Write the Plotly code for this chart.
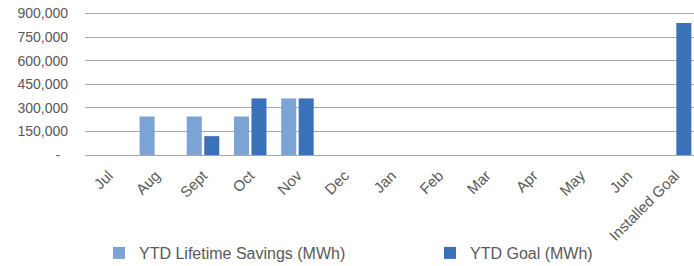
import plotly.graph_objects as go

categories = ["Jul", "Aug", "Sept", "Oct", "Nov", "Dec", "Jan", "Feb", "Mar", "Apr", "May", "Jun", "Installed Goal"]
lifetime_savings = [None, 245000, 245000, 245000, 360000, None, None, None, None, None, None, None, None]
ytd_goal = [None, None, 120000, 360000, 360000, None, None, None, None, None, None, None, 840000]
y_tickvals = [0, 150000, 300000, 450000, 600000, 750000, 900000]
y_ticktext = ["-\u00a0\u00a0", "150,000", "300,000", "450,000", "600,000", "750,000", "900,000"]

FONT = "Liberation Sans, Arial, Helvetica, sans-serif"
GRAY = "#595959"

fig = go.Figure()
fig.add_trace(go.Bar(name="YTD Lifetime Savings (MWh)", x=categories, y=lifetime_savings,
                     marker=dict(color="#7BA3D6", line=dict(width=0)), legend="legend"))
fig.add_trace(go.Bar(name="YTD Goal (MWh)", x=categories, y=ytd_goal,
                     marker=dict(color="#3A72BA", line=dict(width=0)), legend="legend2"))

leg_common = dict(orientation="h", xref="container", yref="container",
                  xanchor="left", yanchor="middle", bgcolor="rgba(0,0,0,0)",
                  font=dict(size=16, color=GRAY, family=FONT), itemwidth=30)

fig.update_layout(
    width=694, height=266,
    margin=dict(l=85, r=0, t=12, b=111, autoexpand=False),
    paper_bgcolor="white", plot_bgcolor="white",
    barmode="group", bargap=0.26, bargroupgap=0.14,
    font=dict(family=FONT, color=GRAY),
    showlegend=True,
    legend=dict(x=99 / 694, y=1 - 253 / 266, **leg_common),
    legend2=dict(x=430 / 694, y=1 - 253 / 266, **leg_common),
    xaxis=dict(type="category", range=[-0.5, 12.4], tickangle=-45, automargin=False,
               tickfont=dict(size=15, color=GRAY), showgrid=False,
               showline=False, ticks="", zeroline=False, ticklabelstandoff=8),
    yaxis=dict(range=[0, 910000], tickvals=y_tickvals, ticktext=y_ticktext, automargin=False,
               tickfont=dict(size=14, color=GRAY), showgrid=True,
               gridcolor="#A8A8A8", gridwidth=1, zeroline=True,
               zerolinecolor="#A8A8A8", zerolinewidth=1, showline=False,
               ticks="", ticklabelstandoff=16),
)

fig.write_html("out.html", config={"displayModeBar": False},
               post_script="document.body.style.margin='0';")
